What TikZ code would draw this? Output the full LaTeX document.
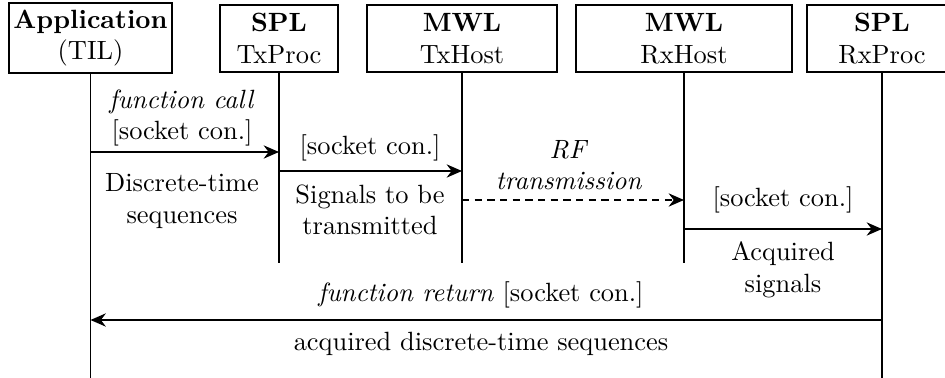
\documentclass[tikz,border=0pt]{standalone}
\usetikzlibrary{arrows.meta}
\begin{document}
\begin{tikzpicture}[x=0.3788pt,y=-0.3788pt,
  actor/.style={draw,line width=0.8pt,inner sep=0pt,align=center,minimum height=25.4pt},
  life/.style={line width=0.6pt},
  msg/.style={line width=0.8pt,-{Stealth[length=5.8pt,width=5pt]}},
  lbl/.style={align=center,inner sep=0pt}]
\useasboundingbox (0,0) rectangle (945,378);
\clip (0,0) rectangle (945,378);
% actor boxes
\node[actor,minimum width=61.7pt,minimum height=26.5pt] (app) at (90.5,38) {\textbf{Application}\\(TIL)};
\node[actor,minimum width=44.7pt] (txp) at (279,38.5) {\textbf{SPL}\\TxProc};
\node[actor,minimum width=72pt] (txh) at (462,38.5) {\textbf{MWL}\\TxHost};
\node[actor,minimum width=81.8pt] (rxh) at (684,38.5) {\textbf{MWL}\\RxHost};
\node[actor,minimum width=56.8pt] (rxp) at (882,38.5) {\textbf{SPL}\\RxProc};
% lifeline ends
\coordinate (appE) at (app.south |- 0,378);
\coordinate (txpE) at (txp.south |- 0,263);
\coordinate (txhE) at (txh.south |- 0,263);
\coordinate (rxhE) at (rxh.south |- 0,263);
\coordinate (rxpE) at (rxp.south |- 0,378);
\draw[life] (app.south) -- (appE);
\draw[life] (txp.south) -- (txpE);
\draw[life] (txh.south) -- (txhE);
\draw[life] (rxh.south) -- (rxhE);
\draw[life] (rxp.south) -- (rxpE);
% message end points
\coordinate (m1s) at (app.south |- 0,152);
\coordinate (m1e) at (txp.south |- 0,152);
\coordinate (m2s) at (txp.south |- 0,171);
\coordinate (m2e) at (txh.south |- 0,171);
\coordinate (m3s) at (txh.south |- 0,200);
\coordinate (m3e) at (rxh.south |- 0,200);
\coordinate (m4s) at (rxh.south |- 0,229);
\coordinate (m4e) at (rxp.south |- 0,229);
\coordinate (m5s) at (rxp.south |- 0,320);
\coordinate (m5e) at (app.south |- 0,320);
\draw[msg] (m1s) -- (m1e);
\draw[msg] (m2s) -- (m2e);
\draw[msg,dash pattern=on 2.8pt off 2pt] (m3s) -- (m3e);
\draw[msg] (m4s) -- (m4e);
\draw[msg] (m5s) -- (m5e);
% labels
\node[lbl] (l1) at (182,118) {\textit{function call}\\{}[socket con.]};
\node[lbl] (l2) at (182,201) {Discrete-time\\sequences};
\node[lbl] (l3) at (370,148) {[socket con.]};
\node[lbl] (l4) at (370,210) {Signals to be\\transmitted};
\node[lbl] (l5) at (569,165) {\textit{RF}\\\textit{transmission}};
\node[lbl] (l6) at (783,200) {[socket con.]};
\node[lbl] (l7) at (783,270) {Acquired\\signals};
\node[lbl] (l8) at (481,295) {\textit{function return} [socket con.]};
\node[lbl] (l9) at (481,344) {acquired discrete-time sequences};
\end{tikzpicture}
\end{document}
